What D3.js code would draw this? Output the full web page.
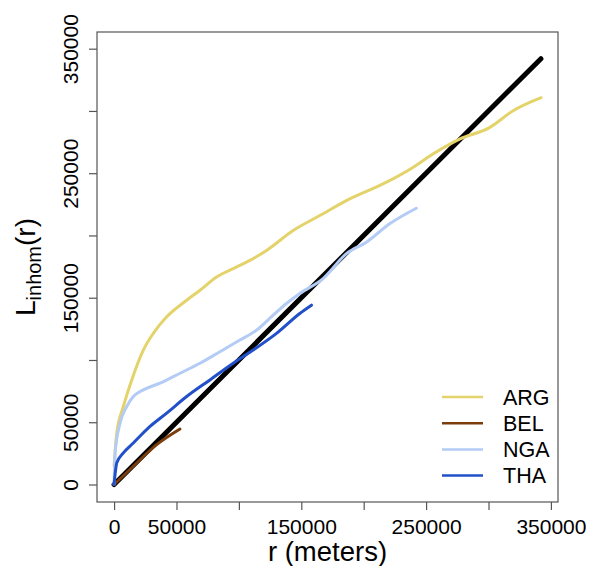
<!DOCTYPE html>
<html lang="en">
<head>
    <title>Linhom(r)</title>
    <script src="https://d3js.org/d3.v7.min.js"></script>
    <style>
        body{
            margin: 0;
            background-color: white;
        }
        svg{
            display: block;
        }
        text{
            font-family: "Liberation Sans", Arial, Helvetica, sans-serif;
            fill: #000;
        }
    </style>
</head>
<body>
<div id="chart"></div>
<script>

// theoretical line L(r) = r
var theoR = [0, 342000]
var theoL = [0, 342000]

// ARG
var argR = [0, 2160, 7440, 14160, 23440, 31440, 42160, 58160, 68800, 82160, 95440, 108800, 122160, 143440, 164800, 188800, 215440, 239440, 255440, 276800, 300800, 319440, 342160]
var argL = [15200, 41360, 62640, 84000, 108000, 121360, 134640, 148000, 156000, 166640, 173360, 180000, 188000, 204000, 216000, 229360, 241360, 254640, 265360, 277360, 286640, 300000, 310640]

// BEL
var belR = [0, 15440, 34160, 52800]
var belL = [0, 14640, 32000, 44560]

// NGA
var ngaR = [0, 800, 4800, 10160, 15440, 23440, 36800, 52800, 68800, 84800, 100800, 114160, 127440, 138160, 148800, 167440, 186160, 202160, 220800, 242160]
var ngaL = [0, 25360, 49360, 62640, 70640, 76000, 81360, 89360, 97360, 106640, 116000, 124000, 136000, 145360, 153360, 165360, 185360, 194640, 209360, 221840]

// THA
var thaR = [0, 2160, 7440, 15440, 28800, 42160, 58160, 76800, 95440, 111440, 130160, 148800, 158160]
var thaL = [0, 17360, 25360, 33360, 46640, 57360, 70640, 84000, 97360, 108000, 121360, 137360, 144000]

var seriesNames = ["ARG", "BEL", "NGA", "THA"]
var seriesColors = ["#E3D36A", "#7A3E0E", "#B3CBF5", "#2150C8"]

var xTicks = [0, 50000, 100000, 150000, 200000, 250000, 300000, 350000]
var xTickLabels = ["0", "50000", "", "150000", "", "250000", "", "350000"]
var yTicks = [0, 50000, 100000, 150000, 200000, 250000, 300000, 350000]
var yTickLabels = ["0", "50000", "", "150000", "", "250000", "", "350000"]

var width = 589
var height = 566
var plot = {left: 97, right: 558, top: 32, bottom: 502}

var svg = d3.select("#chart")
    .append("svg")
    .attr("width", width)
    .attr("height", height)

var x = d3.scaleLinear()
    .domain([-13680, 355680])
    .range([plot.left, plot.right])

var y = d3.scaleLinear()
    .domain([-14050, 363400])
    .range([plot.bottom, plot.top])

var line = d3.line()
    .x(d => x(d[0]))
    .y(d => y(d[1]))
    .curve(d3.curveMonotoneX)

function pairs(rs, ls){
    return rs.map((r, i) => [r, ls[i]])
}

// theoretical line first, curves over it
svg.append("path")
    .datum(pairs(theoR, theoL))
    .attr("d", line)
    .attr("fill", "none")
    .attr("stroke", "#000")
    .attr("stroke-width", 5)
    .attr("stroke-linecap", "round")

var curves = [pairs(argR, argL), pairs(belR, belL), pairs(ngaR, ngaL), pairs(thaR, thaL)]

svg.append("g")
    .selectAll("path")
    .data(curves)
    .enter()
    .append("path")
    .attr("d", line)
    .attr("fill", "none")
    .attr("stroke", (d, i) => seriesColors[i])
    .attr("stroke-width", 3)
    .attr("stroke-linejoin", "round")
    .attr("stroke-linecap", "round")

// box
svg.append("rect")
    .attr("x", plot.left)
    .attr("y", plot.top)
    .attr("width", plot.right - plot.left)
    .attr("height", plot.bottom - plot.top)
    .attr("fill", "none")
    .attr("stroke", "#555")
    .attr("stroke-width", 1.2)

// x axis
var xAxis = d3.axisBottom(x)
    .tickValues(xTicks)
    .tickSize(8)
    .tickFormat((d, i) => xTickLabels[i])

var gx = svg.append("g")
    .attr("transform", "translate(0," + plot.bottom + ")")
    .call(xAxis)
gx.select(".domain").remove()
gx.selectAll("line").attr("stroke", "#555").attr("stroke-width", 1.2)
gx.selectAll("text")
    .attr("y", 17)
    .attr("dy", "0.71em")
    .style("font-size", "21px")
    .style("font-family", "'Liberation Sans', Arial, sans-serif")
    .attr("fill", "#000")

// y axis
var yAxis = d3.axisLeft(y)
    .tickValues(yTicks)
    .tickSize(8)
    .tickFormat((d, i) => yTickLabels[i])

var gy = svg.append("g")
    .attr("transform", "translate(" + plot.left + ",0)")
    .call(yAxis)
gy.select(".domain").remove()
gy.selectAll("line").attr("stroke", "#555").attr("stroke-width", 1.2)
gy.selectAll("text")
    .attr("x", null)
    .attr("dy", null)
    .attr("transform", "translate(-19,0) rotate(-90)")
    .attr("text-anchor", "middle")
    .style("font-size", "21px")
    .style("font-family", "'Liberation Sans', Arial, sans-serif")
    .attr("fill", "#000")

// axis titles
svg.append("text")
    .attr("x", (plot.left + plot.right) / 2)
    .attr("y", 561)
    .attr("text-anchor", "middle")
    .style("font-size", "27.5px")
    .text("r (meters)")

var ylab = svg.append("text")
    .attr("transform", "translate(35," + (plot.top + plot.bottom) / 2 + ") rotate(-90)")
    .attr("text-anchor", "middle")
    .style("font-size", "28px")
ylab.append("tspan").text("L")
ylab.append("tspan").attr("dy", 6).style("font-size", "20px").text("inhom")
ylab.append("tspan").attr("dy", -6).text("(r)")

// legend
var legend = svg.append("g")
    .selectAll("g")
    .data(seriesNames)
    .enter()
    .append("g")
    .attr("transform", (d, i) => "translate(442," + (397 + i * 26.2) + ")")

legend.append("line")
    .attr("x1", 0)
    .attr("x2", 41)
    .attr("stroke", (d, i) => seriesColors[i])
    .attr("stroke-width", 2.5)

legend.append("text")
    .attr("x", 61)
    .attr("dy", "0.36em")
    .style("font-size", "21.5px")
    .text(d => d)

</script>
</body>
</html>
